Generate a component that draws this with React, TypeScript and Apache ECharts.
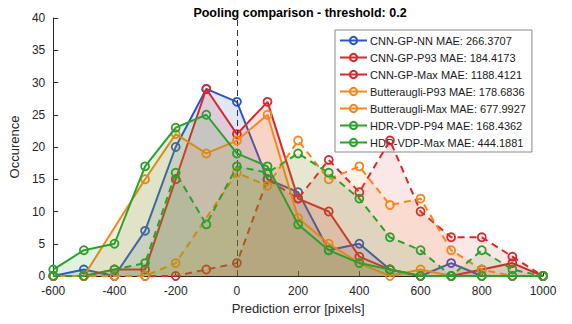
import React, { useEffect, useRef } from "react";
import * as echarts from "echarts";

const xValues = [-600, -500, -400, -300, -200, -100, 0, 100, 200, 300, 400, 500, 600, 700, 800, 900, 1000];
const xTicks = [-600, -400, -200, 0, 200, 400, 600, 800, 1000];
const yTicks = [0, 5, 10, 15, 20, 25, 30, 35, 40];

const cnnNN = [0, 1, 0, 7, 20, 29, 27, 15, 13, 4, 5, 1, 0, 2, 0, 0, 0];
const cnnP93 = [0, 0, 1, 1, 15, 29, 22, 27, 12, 10, 3, 1, 0, 0, 1, 2, 0];
const cnnMax = [0, 0, 0, 0, 0, 1, 2, 15, 12, 18, 13, 21, 10, 6, 6, 3, 0];
const butP93 = [0, 0, null, 15, 22, 19, 21, 25, 9, 5, 2, 0, 1, 0, 0, 0, 0];
const butMax = [0, 0, 0, 0, 2, null, 16, 14, 21, 15, 17, 11, 12, 4, 1, 0, 0];
const hdrP94 = [1, 4, 5, 17, 23, 25, 19, 17, 8, 4, 2, 1, 0, 0, 0, 0, 0];
const hdrMax = [0, 0, 1, 2, 16, 8, 17, 16, 19, 16, 12, 6, 4, 0, 4, 1, 0];

const seriesNames = [
  "CNN-GP-NN MAE: 266.3707",
  "CNN-GP-P93 MAE: 184.4173",
  "CNN-GP-Max MAE: 1188.4121",
  "Butteraugli-P93 MAE: 178.6836",
  "Butteraugli-Max MAE: 677.9927",
  "HDR-VDP-P94 MAE: 168.4362",
  "HDR-VDP-Max MAE: 444.1881",
];

const FONT = "Liberation Sans, Arial, Helvetica, sans-serif";
const BLUE = "#2a55c9";
const RED = "#d6282b";
const ORANGE = "#f7861c";
const GREEN = "#2ca02c";

function hexA(hex: string, a: number) {
  const n = parseInt(hex.slice(1), 16);
  return `rgba(${(n >> 16) & 255},${(n >> 8) & 255},${n & 255},${a})`;
}

export default function App() {
  const ref = useRef<HTMLDivElement>(null);
  useEffect(() => {
    if (!ref.current) return;
    const chart = echarts.init(ref.current, undefined, { renderer: "svg" });
    const defs: [string, any[], string, boolean][] = [
      [seriesNames[0], cnnNN, BLUE, false],
      [seriesNames[1], cnnP93, RED, false],
      [seriesNames[2], cnnMax, RED, true],
      [seriesNames[3], butP93, ORANGE, false],
      [seriesNames[4], butMax, ORANGE, true],
      [seriesNames[5], hdrP94, GREEN, false],
      [seriesNames[6], hdrMax, GREEN, true],
    ];
    const series: any[] = defs.map(([name, vals, color, dashed], i) => ({
      name,
      type: "line",
      data: xValues.map((x, k) => [x, vals[k]]),
      connectNulls: true,
      symbol: "circle",
      symbolSize: 8,
      itemStyle: { color: "rgba(255,255,255,0)", borderColor: color, borderWidth: 1.8 },
      lineStyle: { color, width: 2, type: dashed ? [7, 5] : "solid" },
      areaStyle: { color: hexA(color, dashed ? 0.16 : 0.2) },
      z: 2 + i,
    }));
    series.push({
      name: "zero",
      type: "line",
      data: [],
      z: 20,
      markLine: {
        silent: true,
        symbol: "none",
        label: { show: false },
        lineStyle: { color: "#333", type: [6, 4], width: 1 },
        data: [{ xAxis: 0 }],
      },
    });
    chart.setOption({
      animation: false,
      backgroundColor: "#fff",
      textStyle: { fontFamily: FONT },
      title: {
        text: "Pooling comparison - threshold: 0.2",
        left: 295,
        textAlign: "center",
        top: 1,
        textStyle: { fontFamily: FONT, fontSize: 12.5, fontWeight: "bold", color: "#000" },
      },
      grid: { left: 47, right: 29, top: 18, bottom: 48 },
      legend: {
        orient: "vertical",
        left: 335,
        top: 30,
        itemWidth: 27,
        itemHeight: 9,
        itemGap: 6,
        padding: [5, 6, 4, 4],
        borderColor: "#888",
        borderWidth: 1,
        backgroundColor: "#fff",
        lineStyle: { type: "solid" },
        textStyle: { fontFamily: FONT, fontSize: 11, color: "#1a1a1a", padding: [0, 0, 0, -2] },
        data: seriesNames,
      },
      xAxis: {
        type: "value",
        min: xTicks[0],
        max: xTicks[xTicks.length - 1],
        interval: 200,
        name: "Prediction error [pixels]",
        nameLocation: "middle",
        nameGap: 26,
        nameTextStyle: { fontFamily: FONT, fontSize: 13, color: "#262626" },
        axisLine: { onZero: false, lineStyle: { color: "#262626", width: 1 } },
        axisTick: { inside: true, length: 5, lineStyle: { color: "#262626" } },
        axisLabel: { fontFamily: FONT, fontSize: 12, color: "#262626", margin: 9, formatter: (v: number) => String(v) },
        splitLine: { show: false },
      },
      yAxis: {
        type: "value",
        min: yTicks[0],
        max: yTicks[yTicks.length - 1],
        interval: 5,
        name: "Occurence",
        nameLocation: "middle",
        nameGap: 30,
        nameTextStyle: { fontFamily: FONT, fontSize: 13, color: "#262626" },
        axisLine: { show: true, onZero: false, lineStyle: { color: "#262626", width: 1 } },
        axisTick: { show: true, inside: true, length: 5, lineStyle: { color: "#262626" } },
        axisLabel: { fontFamily: FONT, fontSize: 12, color: "#262626", margin: 8 },
        splitLine: { show: false },
      },
      series,
    });
    return () => chart.dispose();
  }, []);
  return <div ref={ref} style={{ width: 572, height: 324, position: "absolute", left: 0, top: 0 }} />;
}
